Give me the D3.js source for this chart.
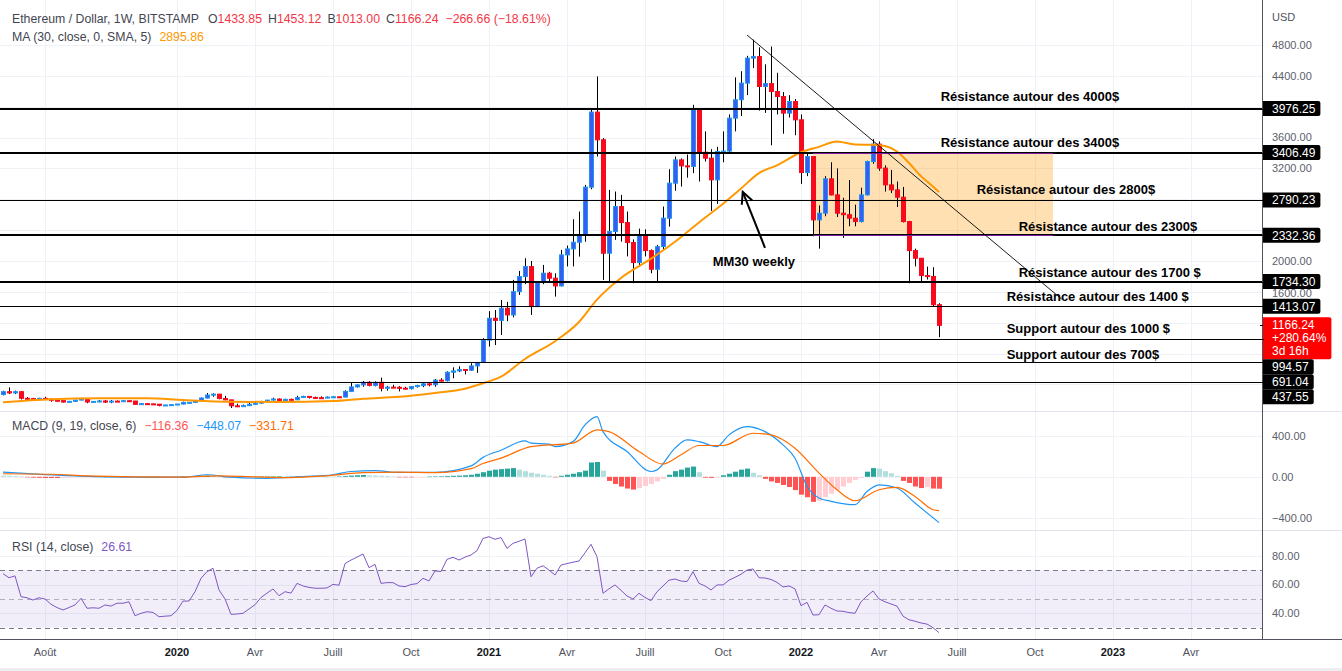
<!DOCTYPE html>
<html><head><meta charset="utf-8">
<script src="https://cdn.jsdelivr.net/npm/d3@7"></script>
<style>
body{margin:0;background:#fff;}
svg{display:block;font-family:"Liberation Sans",Arial,Helvetica,sans-serif;}
</style>
</head><body>
<svg id="c" width="1342" height="671"></svg>
<script>
// ---------------- DATA ----------------
const firstWeek = "2019-06-17";
const lastWeek = "2022-06-13";
const opens = [269,306,290,306,220,216,206,220,210,195,190,172,181,197,212,173,180,186,171,184,182,189,185,142,151,148,144,128,134,138,
146,167,168,189,224,262,274,217,200,123,119,125,143,158,178,197,211,188,207,201,231,245,232,228,224,236,240,236,310,368,
394,428,388,428,350,365,363,352,345,372,385,408,396,456,448,558,575,594,585,640,685,975,1258,1230,1388,1301,1603,1798,1928,1409,
1733,1842,1777,1677,2079,2157,2243,2330,2957,3930,3571,2101,2382,2706,2498,2239,1980,2330,2135,1893,2187,2555,3009,3311,3233,3225,3960,3410,3333,3052,
3419,3425,3852,4090,4306,4630,4650,4262,4300,4197,4132,3917,4067,3830,3147,3354,2533,2620,3065,2857,2620,2600,2555,2511,2857,3290,3515,3204,2987,2922,
2827,2511,2135,2036,1811,1800,1433.85];
const highs = [318,362,320,316,236,226,226,240,215,203,192,186,200,227,215,184,197,197,198,192,197,192,186,160,152,151,146,135,145,148,
177,172,190,229,288,286,277,252,201,150,139,175,176,187,199,228,218,214,216,253,253,250,242,246,245,247,243,324,420,400,
445,442,440,488,382,395,378,370,380,395,420,415,470,480,570,622,635,600,675,690,1000,1350,1365,1495,1470,1755,1872,2036,2000,1740,
1949,1860,1840,2144,2200,2542,2641,2987,3969,4392,3593,2922,2900,2857,2641,2280,2420,2410,2150,2209,2706,3190,3354,3330,3380,4025,3970,3680,3450,3480,
3680,3900,4380,4460,4660,4870,4770,4550,4780,4440,4190,4150,4100,3900,3410,3360,2720,3100,3280,3200,2820,3050,2730,2950,3300,3580,3550,3240,3180,3030,
2960,2520,2160,2040,1927,1920,1453.12];
const lows = [258,275,275,205,198,200,204,200,176,180,165,165,173,195,157,163,169,160,157,177,180,176,137,138,143,140,117,124,125,135,
142,156,166,186,220,240,208,196,95,107,115,124,140,150,168,193,178,180,196,198,224,218,216,218,220,232,227,233,306,360,
370,375,375,310,320,355,310,335,335,360,365,375,370,440,440,480,560,530,575,550,680,890,910,1041,1220,1270,1560,1700,1301,1405,
1700,1730,1538,1670,1930,1930,2057,2250,2930,3354,1755,1733,2274,2252,2060,1712,1930,2060,1841,1720,2150,2446,2910,2965,3080,3139,3030,3290,2650,2740,
3280,3400,3680,3880,4150,4500,3950,3920,3500,3900,3650,3860,3630,3000,3100,2320,2160,2580,2850,2570,2300,2450,2450,2500,2850,3260,3170,2900,2880,2700,
2500,1712,1930,1720,1760,1410,1013.00];
const closes = [306,290,306,220,216,206,220,210,195,190,172,181,197,212,173,180,186,171,184,182,189,185,142,151,148,144,128,134,138,146,
167,168,189,224,262,274,217,200,123,119,125,143,158,178,197,211,188,207,201,231,245,232,228,224,236,240,236,310,368,394,
428,388,428,350,365,363,352,345,372,385,408,396,456,448,558,575,594,585,640,685,975,1258,1230,1388,1301,1603,1798,1928,1409,1733,
1842,1777,1677,2079,2157,2243,2330,2957,3930,3571,2101,2382,2706,2498,2239,1980,2330,2135,1893,2187,2555,3009,3311,3233,3225,3960,3410,3333,3052,3419,
3425,3852,4090,4306,4630,4650,4262,4300,4197,4132,3917,4067,3830,3147,3354,2533,2620,3065,2857,2620,2600,2555,2511,2857,3290,3515,3204,2987,2922,2827,
2511,2135,2036,1811,1800,1432.90,1166.24];

// MA (30) at these week indexes
const maWeek =  [0,8,16,24,30,38,46,55,60,66,72,77,80,83,87,92,96,99,103,108,112,116,119,123,126,129,133,136,139,142,145,147,149,151,153,155,156];
const maValue = [169,207,220,220,198,176,172,185,215,240,290,345,415,500,730,960,1210,1500,1780,2030,2250,2500,2680,2940,3140,3240,3410,3480,3550,3510,3506,3490,3420,3270,3100,2965,2895.86];

// MACD lines at these week indexes
const macdWeek = [0,7,13,22,30,34,38,44,50,55,58,62,66,72,78,80,83,87,88,91,92,95,97,99,100,104,108,109,112,114,116,119,121,124,127,130,132,134,136,138,142,144,146,149,152,156];
const macdValue = [45,22,6,-4,-4,20,-4,-15,3,20,52,60,43,43,107,190,260,351,330,319,296,344,507,588,442,247,52,68,280,361,344,296,410,491,442,312,182,-92,-208,-240,-273,-143,-78,-110,-257,-448.07];
const signalWeek = [0,8,14,22,30,36,42,48,54,60,66,72,78,80,83,88,95,99,101,106,110,113,116,120,125,128,132,136,139,142,146,149,152,155,156];
const signalValue = [30,25,10,0,-3,10,0,-8,10,40,45,40,80,130,182,296,329,459,442,247,124,215,306,306,426,410,280,36,-127,-234,-127,-104,-192,-322,-331.71];
const macdHist = [12,10,8,6,
 -3,-8,-10,-12,-12,-12,-10,-8,-6,
 -4,-3,-2,-1,0,1,0,-1,-2,-1,0,-1,-2,
 -5,-4,-3,-1,
 3,5,8,10,12,8,4,
 -2,-6,-8,-6,-4,
 2,3,4,5,6,5,4,5,6,5,4,3,2,2,
 4,8,12,15,18,
 15,12,10,8,5,
 -2,-4,-5,-3,-2,
 2,4,6,8,10,12,15,
 20,30,45,60,70,75,80,85,
 70,55,40,30,20,10,
 -5,
 10,20,30,45,60,
 140,145,
 60,
 -40,-70,-95,-115,-125,
 -110,-90,-70,-45,-20,
 20,55,70,90,100,
 45,
 -8,-10,-6,
 15,30,50,70,80,
 40,15,
 -20,-45,-60,-80,-100,-130,-175,-200,-245,
 -235,-200,-165,-130,-95,-60,-30,-10,
 50,85,
 80,55,35,10,
 -40,-60,-95,-110,-100,-115,-116.36];

// RSI (14) per week
const rsi = [67.5,64.7,66,51.5,50.8,49.2,50.8,49.9,46.3,44,42.3,44,45.8,50.4,43.5,43.8,43.5,45.8,45,47,
47,48,38.3,40,41.1,40.6,37.6,38,38.3,42,48.5,48.5,55,64.3,68.9,71.3,56.2,50,39.3,39.5,
40,43,46,51,54,56.9,52.2,55,54,60.8,59,58,57.4,57.4,57.6,60.1,59.5,74.5,77,79,
81.2,71.7,74,60.8,61.3,61.3,59,58.5,60,60.6,64.3,62.5,69.4,69,77.5,78.9,77,79,80.5,83.5,
92,93.2,91.4,92.6,85.1,88.6,90,91.6,65.4,71.3,73,70,66.6,73.5,74.5,75.5,76.3,82,87.9,79.3,
53.9,57,59.7,56,52,49.9,53.9,51,48.8,55,59,63,63.8,62.4,62,68.9,60.8,59,56.2,59.7,
59.7,63,65,67.1,70,70.8,64.7,64.5,63.5,61.5,58.3,59,57,45.3,47.6,38.8,39,45.8,43.5,41.6,
41.4,40.5,40,48,52,55.5,50,48,46.5,45,38,35.5,34.5,33.3,32.5,30,26.61];

// horizontal levels drawn on the chart
const levelPrices = [3976.25,3406.49,2790.23,2332.36,1734.30,1413.07,994.57,691.04,437.55];
const levelBold   = [true,true,false,true,true,false,false,false,false];

// annotation texts (anchored by date / price)
const noteTexts  = ["Résistance autour des 4000$","Résistance autour des 3400$","Résistance autour des 2800$","Résistance autour des 2300$",
                    "Résistance autour des 1700 $","Résistance autour des 1400 $","Support autour des 1000 $","Support autour des 700$","MM30 weekly"];
const noteDates  = ["2022-06-15","2022-06-15","2022-07-27","2022-09-14","2022-09-14","2022-08-31","2022-08-31","2022-08-31","2021-09-22"];
const notePrices = [4139,3542,2933,2454,1858,1547,1132,795,1988];

const zoneDates  = ["2022-01-17","2022-10-24"];
const zonePrices = [3406.49,2332.36];
const trendDates = ["2021-11-01","2022-11-03"];
const trendPrices= [4929,1507];
const arrowDates = ["2021-11-22","2021-10-27"];
const arrowPrices= [2171,2897];

const priceTicks = [400,800,1200,1600,2000,2400,2800,3200,3600,4000,4400,4800];
const macdTicks = [400,0,-400];
const rsiTicks = [80,60,40];
const timeTickDates = ["2019-08-05","2020-01-06","2020-04-06","2020-07-06","2020-10-05","2021-01-04","2021-04-05","2021-07-05","2021-10-04","2022-01-03","2022-04-04","2022-07-04","2022-10-03","2023-01-02","2023-04-03"];
const timeTickLabels = ["Août","2020","Avr","Juill","Oct","2021","Avr","Juill","Oct","2022","Avr","Juill","Oct","2023","Avr"];

// ---------------- LAYOUT ----------------
const W = 1342, H = 671, PR = 1262;
const mainTop = 0, mainBot = 411, macdBot = 530, rsiBot = 639;
const svg = d3.select("#c");
const P = s => new Date(s + "T00:00:00Z");

const dates = d3.utcMonday.range(P(firstWeek), d3.utcDay.offset(P(lastWeek), 1));
const x = d3.scaleUtc().domain([P(firstWeek), P(lastWeek)]).range([3, 939]);
const y = d3.scaleLinear().domain([0, 4800]).range([415.3, 45]);
const yM = d3.scaleLinear().domain([-400, 400]).range([517.7, 435.9]);
const yR = d3.scaleLinear().domain([40, 80]).range([613.3, 555.7]);
const cx = i => Math.round(x(dates[i]));

const defs = svg.append("defs");
[["cMain", mainTop, mainBot], ["cMacd", mainBot, macdBot - mainBot], ["cRsi", macdBot, rsiBot - macdBot]].forEach(([id, t, h]) => {
  defs.append("clipPath").attr("id", id).append("rect").attr("x", 0).attr("y", t).attr("width", PR).attr("height", h);
});

svg.append("rect").attr("width", W).attr("height", H).attr("fill", "#fff");

const gridC = "#eef1f6";
svg.append("g").selectAll("line").data(timeTickDates).join("line")
  .attr("x1", d => Math.round(x(P(d))) + 0.5).attr("x2", d => Math.round(x(P(d))) + 0.5)
  .attr("y1", 0).attr("y2", rsiBot).attr("stroke", gridC);
svg.append("g").selectAll("line").data(priceTicks).join("line")
  .attr("x1", 0).attr("x2", PR).attr("y1", d => Math.round(y(d)) + 0.5).attr("y2", d => Math.round(y(d)) + 0.5).attr("stroke", gridC);
svg.append("g").selectAll("line").data(macdTicks).join("line")
  .attr("x1", 0).attr("x2", PR).attr("y1", d => Math.round(yM(d)) + 0.5).attr("y2", d => Math.round(yM(d)) + 0.5).attr("stroke", gridC);
svg.append("g").selectAll("line").data(rsiTicks).join("line")
  .attr("x1", 0).attr("x2", PR).attr("y1", d => Math.round(yR(d)) + 0.5).attr("y2", d => Math.round(yR(d)) + 0.5).attr("stroke", gridC);

// ---------------- MAIN PANE ----------------
const gMain = svg.append("g").attr("clip-path", "url(#cMain)");
const zx0 = x(P(zoneDates[0])), zx1 = x(P(zoneDates[1])), zy0 = y(zonePrices[0]), zy1 = y(zonePrices[1]);
gMain.append("rect").attr("x", zx0).attr("y", zy0).attr("width", zx1 - zx0).attr("height", zy1 - zy0)
  .attr("fill", "rgba(255,152,0,0.3)");

const idx = d3.range(dates.length);
const upFill = "#3a5cf2", upStroke = "#1e96f0", dnFill = "#f70a1c";
gMain.append("g").selectAll("line").data(idx).join("line")
  .attr("x1", i => cx(i) + 0.5).attr("x2", i => cx(i) + 0.5)
  .attr("y1", i => y(highs[i])).attr("y2", i => y(lows[i]))
  .attr("stroke", "#000").attr("stroke-width", 1);
gMain.append("g").selectAll("rect").data(idx).join("rect")
  .attr("x", i => cx(i) - 1.5).attr("width", 4)
  .attr("y", i => Math.min(y(opens[i]), y(closes[i])))
  .attr("height", i => Math.max(1, Math.abs(y(opens[i]) - y(closes[i]))))
  .attr("fill", i => closes[i] >= opens[i] ? upFill : dnFill)
  .attr("stroke", i => closes[i] >= opens[i] ? upStroke : dnFill)
  .attr("stroke-width", 1);

gMain.append("path").datum(maWeek.map((w, k) => [x(dates[w]), y(maValue[k])]))
  .attr("d", d3.line().curve(d3.curveMonotoneX))
  .attr("fill", "none").attr("stroke", "#ff9800").attr("stroke-width", 2);

gMain.append("g").selectAll("line").data(levelPrices).join("line")
  .attr("x1", 0).attr("x2", PR)
  .attr("y1", (d, k) => levelBold[k] ? Math.round(y(d)) : Math.round(y(d)) + 0.5)
  .attr("y2", (d, k) => levelBold[k] ? Math.round(y(d)) : Math.round(y(d)) + 0.5)
  .attr("stroke", "#000").attr("stroke-width", (d, k) => levelBold[k] ? 2 : 1);

[zy0, zy1].forEach(v => {
  gMain.append("line").attr("x1", zx0).attr("x2", zx1).attr("y1", Math.round(v) + 0.5).attr("y2", Math.round(v) + 0.5)
    .attr("stroke", "#7b1fa2").attr("stroke-width", 1);
});

gMain.append("line")
  .attr("x1", x(P(trendDates[0]))).attr("y1", y(trendPrices[0]))
  .attr("x2", x(P(trendDates[1]))).attr("y2", y(trendPrices[1]))
  .attr("stroke", "#000").attr("stroke-width", 0.9);

const ax1 = x(P(arrowDates[0])), ay1 = y(arrowPrices[0]), ax2 = x(P(arrowDates[1])), ay2 = y(arrowPrices[1]);
const ang = Math.atan2(ay2 - ay1, ax2 - ax1);
gMain.append("line").attr("x1", ax1).attr("y1", ay1).attr("x2", ax2).attr("y2", ay2)
  .attr("stroke", "#000").attr("stroke-width", 2);
const hl = 13, ha = 0.45;
gMain.append("path")
  .attr("d", `M${ax2 - hl * Math.cos(ang - ha)},${ay2 - hl * Math.sin(ang - ha)} L${ax2},${ay2} L${ax2 - hl * Math.cos(ang + ha)},${ay2 - hl * Math.sin(ang + ha)}`)
  .attr("fill", "none").attr("stroke", "#000").attr("stroke-width", 2);

gMain.append("g").selectAll("text").data(noteTexts).join("text")
  .attr("x", (d, k) => x(P(noteDates[k]))).attr("y", (d, k) => y(notePrices[k]))
  .attr("dy", "0.35em").attr("font-size", 13).attr("font-weight", "bold").attr("fill", "#000")
  .text(d => d);

// ---------------- MACD PANE ----------------
const gMacd = svg.append("g").attr("clip-path", "url(#cMacd)");
const histColor = (i) => {
  const v = macdHist[i], p = i > 0 ? macdHist[i - 1] : v;
  if (v >= 0) return p < v ? "#26a69a" : "#b2dfdb";
  return p < v ? "#ffcdd2" : "#ff5252";
};
gMacd.append("g").selectAll("rect").data(idx).join("rect")
  .attr("x", i => cx(i) - 2).attr("width", 5)
  .attr("y", i => Math.min(yM(0), yM(macdHist[i])))
  .attr("height", i => Math.max(0.5, Math.abs(yM(macdHist[i]) - yM(0))))
  .attr("fill", histColor);
gMacd.append("path").datum(macdWeek.map((w, k) => [x(dates[w]), yM(macdValue[k])]))
  .attr("d", d3.line().curve(d3.curveMonotoneX)).attr("fill", "none").attr("stroke", "#2196f3").attr("stroke-width", 1.2);
gMacd.append("path").datum(signalWeek.map((w, k) => [x(dates[w]), yM(signalValue[k])]))
  .attr("d", d3.line().curve(d3.curveMonotoneX)).attr("fill", "none").attr("stroke", "#ff6d00").attr("stroke-width", 1.2);

// ---------------- RSI PANE ----------------
const gRsi = svg.append("g").attr("clip-path", "url(#cRsi)");
gRsi.append("rect").attr("x", 0).attr("width", PR).attr("y", yR(70)).attr("height", yR(30) - yR(70))
  .attr("fill", "rgba(126,87,194,0.1)");
[[70, "#787b86"], [50, "rgba(120,123,134,0.55)"], [30, "#787b86"]].forEach(([v, c]) => {
  gRsi.append("line").attr("x1", 0).attr("x2", PR).attr("y1", Math.round(yR(v)) + 0.5).attr("y2", Math.round(yR(v)) + 0.5)
    .attr("stroke", c).attr("stroke-dasharray", "5,4");
});
gRsi.append("path").datum(idx.map(i => [x(dates[i]), yR(rsi[i])]))
  .attr("d", d3.line()).attr("fill", "none").attr("stroke", "#7e57c2").attr("stroke-width", 1);

// ---------------- FRAME / AXES ----------------
svg.append("rect").attr("x", PR).attr("y", 0).attr("width", W - PR).attr("height", H).attr("fill", "#fff");
svg.append("rect").attr("x", 0).attr("y", rsiBot).attr("width", W).attr("height", H - rsiBot).attr("fill", "#fff");
svg.append("line").attr("x1", 0).attr("x2", W).attr("y1", mainBot + 0.5).attr("y2", mainBot + 0.5).attr("stroke", "#e0e3eb");
svg.append("line").attr("x1", 0).attr("x2", W).attr("y1", macdBot + 0.5).attr("y2", macdBot + 0.5).attr("stroke", "#e0e3eb");
svg.append("line").attr("x1", 0).attr("x2", W).attr("y1", rsiBot + 0.5).attr("y2", rsiBot + 0.5).attr("stroke", "#50535e");
svg.append("line").attr("x1", PR + 0.5).attr("x2", PR + 0.5).attr("y1", 0).attr("y2", rsiBot).attr("stroke", "#50535e");
svg.append("rect").attr("x", 0).attr("y", H - 3).attr("width", W).attr("height", 3).attr("fill", "#eceef2");

const axC = "#5d606b";
const fmt = v => (v < 0 ? "\u2212" : "") + Math.abs(v).toFixed(2);

// price labels with collision stacking
const labels = levelPrices.map(p => ({ p, lines: [p.toFixed(2)], fill: "#000", h: 15, off: 7.5 }));
labels.push({ p: closes[closes.length - 1], lines: [closes[closes.length - 1].toFixed(2), "+280.64%", "3d 16h"], fill: "#ff0000", h: 42, off: 8 });
labels.sort((a, b) => y(a.p) - y(b.p));
let prevBottom = -1e9;
labels.forEach(l => {
  let top = y(l.p) - l.off;
  if (top < prevBottom) top = prevBottom;
  l.top = top; prevBottom = top + l.h;
});
// tick labels hidden under a box are skipped; one only grazed by a box is nudged just below it
const tickPlaced = priceTicks.map(v => {
  let ty = y(v);
  for (const l of labels) {
    if (ty >= l.top - 1 && ty <= l.top + l.h + 1) return null;
    if (ty - 4.5 < l.top + l.h && ty + 4.5 > l.top) ty = l.top + l.h + 4.5;
  }
  return { v, ty };
}).filter(d => d);

svg.append("text").attr("x", 1272).attr("y", 17).attr("dy", "0.35em").attr("font-size", 11).attr("fill", "#50535e").text("USD");
svg.append("g").selectAll("text").data(tickPlaced).join("text")
  .attr("x", 1272).attr("y", d => d.ty).attr("dy", "0.35em").attr("font-size", 11).attr("fill", axC).text(d => fmt(d.v));
svg.append("g").selectAll("text").data(macdTicks).join("text")
  .attr("x", 1272).attr("y", d => yM(d)).attr("dy", "0.35em").attr("font-size", 11).attr("fill", axC).text(fmt);
svg.append("g").selectAll("text").data(rsiTicks).join("text")
  .attr("x", 1272).attr("y", d => yR(d)).attr("dy", "0.35em").attr("font-size", 11).attr("fill", axC).text(fmt);

const gLab = svg.append("g");
labels.forEach(l => {
  const g = gLab.append("g");
  const t = g.selectAll("text").data(l.lines).join("text")
    .attr("x", 1272).attr("y", (d, k) => l.top + 7.5 + k * 13).attr("dy", "0.36em")
    .attr("font-size", 12).attr("fill", "#fff").text(d => d);
  let w = 0; t.each(function () { w = Math.max(w, this.getComputedTextLength()); });
  g.insert("path", "text").attr("d", () => {
    const x0 = PR + 1, x1 = 1272 + w + 5, y0 = l.top, y1 = l.top + l.h, r = 2;
    return `M${x0},${y0} H${x1 - r} Q${x1},${y0} ${x1},${y0 + r} V${y1 - r} Q${x1},${y1} ${x1 - r},${y1} H${x0} Z`;
  }).attr("fill", l.fill);
  g.insert("line", "path").attr("x1", PR - 2).attr("x2", PR + 2).attr("y1", Math.round(y(l.p)) + 0.5).attr("y2", Math.round(y(l.p)) + 0.5)
    .attr("stroke", "#000");
});

svg.append("g").selectAll("text").data(timeTickDates).join("text")
  .attr("x", d => x(P(d))).attr("y", 652).attr("dy", "0.35em").attr("text-anchor", "middle")
  .attr("font-size", 11).attr("font-weight", (d, k) => /^\d{4}$/.test(timeTickLabels[k]) ? "bold" : "normal")
  .attr("fill", (d, k) => /^\d{4}$/.test(timeTickLabels[k]) ? "#131722" : "#50535e")
  .text((d, k) => timeTickLabels[k]);

// legends
const red = "#f23645", txt = "#434651", LF = 12.3;
const n = closes.length;
const leg1 = svg.append("text").attr("x", 12).attr("y", 19).attr("dy", "0.35em").attr("font-size", LF).attr("fill", txt);
leg1.append("tspan").text("Ethereum / Dollar, 1W, BITSTAMP");
[["O", opens], ["H", highs], ["B", lows], ["C", closes]].forEach(([k, arr], j) => {
  leg1.append("tspan").attr("dx", j === 0 ? 9 : 6).text(k);
  leg1.append("tspan").attr("fill", red).text(arr[arr.length - 1].toFixed(2));
});
const chg = closes[n - 1] - closes[n - 2];
leg1.append("tspan").attr("dx", 7).attr("fill", red)
  .text("\u2212" + Math.abs(chg).toFixed(2) + " (\u2212" + Math.abs(chg / closes[n - 2] * 100).toFixed(2) + "%)");

const leg2 = svg.append("text").attr("x", 12).attr("y", 37).attr("dy", "0.35em").attr("font-size", LF).attr("fill", txt);
leg2.append("tspan").text("MA (30, close, 0, SMA, 5)");
leg2.append("tspan").attr("dx", 8).attr("fill", "#ff9800").text(maValue[maValue.length - 1].toFixed(2));

const leg3 = svg.append("text").attr("x", 12).attr("y", 426).attr("dy", "0.35em").attr("font-size", LF).attr("fill", txt);
leg3.append("tspan").text("MACD (9, 19, close, 6)");
leg3.append("tspan").attr("dx", 8).attr("fill", "#ff5252").text(fmt(macdHist[macdHist.length - 1]));
leg3.append("tspan").attr("dx", 8).attr("fill", "#2196f3").text(fmt(macdValue[macdValue.length - 1]));
leg3.append("tspan").attr("dx", 8).attr("fill", "#ff6d00").text(fmt(signalValue[signalValue.length - 1]));

const leg4 = svg.append("text").attr("x", 12).attr("y", 547).attr("dy", "0.35em").attr("font-size", LF).attr("fill", txt);
leg4.append("tspan").text("RSI (14, close)");
leg4.append("tspan").attr("dx", 8).attr("fill", "#7e57c2").text(rsi[rsi.length - 1].toFixed(2));
</script>
</body></html>
